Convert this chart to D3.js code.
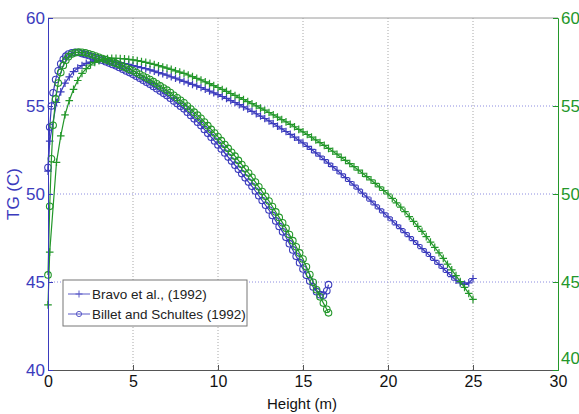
<!DOCTYPE html>
<html>
<head>
<meta charset="utf-8">
<script src="https://cdn.jsdelivr.net/npm/d3@7.9.0/dist/d3.min.js"></script>
<style>
  body { margin: 0; background: #fff; }
  svg { display: block; font-family: "Liberation Sans", Arial, sans-serif; }
</style>
</head>
<body>
<svg id="chart" width="579" height="414"></svg>
<script>
// axis ticks and legend text
const xTicks = [0, 5, 10, 15, 20, 25, 30];
const yTicks = [40, 45, 50, 55, 60];
const legendLabels = ['Bravo et al., (1992)', 'Billet and Schultes (1992)'];

// heights (m) for the Bravo (+) curves
const heightLong = [
  0, 0.1, 0.5, 0.75, 1, 1.25, 1.5, 1.75, 2, 2.25,
  2.5, 2.75, 3, 3.25, 3.5, 3.75, 4, 4.25, 4.5, 4.75,
  5, 5.25, 5.5, 5.75, 6, 6.25, 6.5, 6.75, 7, 7.25,
  7.5, 7.75, 8, 8.25, 8.5, 8.75, 9, 9.25, 9.5, 9.75,
  10, 10.25, 10.5, 10.75, 11, 11.25, 11.5, 11.75, 12, 12.25,
  12.5, 12.75, 13, 13.25, 13.5, 13.75, 14, 14.25, 14.5, 14.75,
  15, 15.25, 15.5, 15.75, 16, 16.25, 16.5, 16.75, 17, 17.25,
  17.5, 17.75, 18, 18.25, 18.5, 18.75, 19, 19.25, 19.5, 19.75,
  20, 20.25, 20.5, 20.75, 21, 21.25, 21.5, 21.75, 22, 22.25,
  22.5, 22.75, 23, 23.25, 23.5, 23.75, 24, 24.25, 24.5, 24.75,
  25
];

// heights (m) for the Billet (o) curves
const heightShort = [
  0, 0.1, 0.2, 0.3, 0.45, 0.6, 0.75, 0.9, 1.05, 1.2,
  1.4, 1.6, 1.8, 2.0, 2.2, 2.4, 2.6, 2.8, 3.0, 3.2,
  3.4, 3.6, 3.8, 4.0, 4.2, 4.4, 4.6, 4.8, 5.0, 5.2,
  5.4, 5.6, 5.8, 6.0, 6.2, 6.4, 6.6, 6.8, 7.0, 7.2,
  7.4, 7.6, 7.8, 8.0, 8.2, 8.4, 8.6, 8.8, 9.0, 9.2,
  9.4, 9.6, 9.8, 10.0, 10.2, 10.4, 10.6, 10.8, 11.0, 11.2,
  11.4, 11.6, 11.8, 12.0, 12.2, 12.4, 12.6, 12.8, 13.0, 13.2,
  13.4, 13.6, 13.8, 14.0, 14.2, 14.4, 14.6, 14.8, 15.0, 15.2,
  15.4, 15.6, 15.8, 16.0, 16.2, 16.4, 16.5
];

// TG (C), left axis (blue)
const bravoLeft = [
  51.3, 53.0, 55.2, 55.8, 56.3, 56.65, 56.95, 57.15, 57.3, 57.42,
  57.5, 57.56, 57.6, 57.61, 57.59, 57.55, 57.5, 57.46, 57.41, 57.36,
  57.3, 57.24, 57.18, 57.12, 57.05, 56.98, 56.9, 56.83, 56.75, 56.66,
  56.58, 56.49, 56.4, 56.31, 56.23, 56.14, 56.05, 55.95, 55.85, 55.75,
  55.65, 55.54, 55.43, 55.31, 55.2, 55.08, 54.95, 54.83, 54.7, 54.56,
  54.43, 54.29, 54.15, 54.0, 53.85, 53.7, 53.55, 53.39, 53.23, 53.06,
  52.9, 52.71, 52.53, 52.34, 52.15, 51.95, 51.75, 51.55, 51.35, 51.14,
  50.93, 50.71, 50.5, 50.28, 50.05, 49.83, 49.6, 49.38, 49.15, 48.93,
  48.7, 48.48, 48.25, 48.03, 47.8, 47.58, 47.35, 47.13, 46.9, 46.68,
  46.45, 46.23, 46.0, 45.77, 45.54, 45.31, 45.1, 44.95, 44.87, 44.95,
  45.2
];

const billetLeft = [
  51.5, 53.8, 55.0, 55.75, 56.5, 57.0, 57.4, 57.65, 57.83, 57.95,
  58.02, 58.05, 58.04, 57.98, 57.93, 57.87, 57.81, 57.75, 57.68, 57.6,
  57.52, 57.44, 57.36, 57.28, 57.19, 57.09, 56.99, 56.9, 56.8, 56.69,
  56.58, 56.47, 56.35, 56.24, 56.11, 55.98, 55.85, 55.72, 55.59, 55.44,
  55.29, 55.14, 54.99, 54.84, 54.65, 54.46, 54.27, 54.08, 53.89, 53.67,
  53.45, 53.23, 53.01, 52.79, 52.56, 52.33, 52.1, 51.87, 51.64, 51.4,
  51.16, 50.92, 50.68, 50.44, 50.17, 49.9, 49.63, 49.36, 49.09, 48.78,
  48.47, 48.16, 47.85, 47.54, 47.18, 46.82, 46.46, 46.1, 45.74, 45.38,
  45.05, 44.72, 44.45, 44.28, 44.25, 44.5, 44.85
];

// TG, right axis (green)
const bravoRight = [
  43.7, 46.7, 51.8, 53.3, 54.5, 55.3, 55.95, 56.45, 56.85, 57.12,
  57.33, 57.48, 57.58, 57.65, 57.69, 57.71, 57.71, 57.7, 57.68, 57.65,
  57.62, 57.58, 57.53, 57.48, 57.42, 57.36, 57.29, 57.22, 57.15, 57.08,
  57.0, 56.93, 56.85, 56.76, 56.67, 56.57, 56.48, 56.37, 56.27, 56.16,
  56.05, 55.94, 55.83, 55.71, 55.6, 55.48, 55.37, 55.25, 55.13, 55.01,
  54.88, 54.76, 54.63, 54.5, 54.37, 54.23, 54.1, 53.96, 53.82, 53.67,
  53.53, 53.38, 53.23, 53.07, 52.92, 52.76, 52.59, 52.43, 52.26, 52.08,
  51.91, 51.73, 51.55, 51.36, 51.18, 50.99, 50.8, 50.6, 50.4, 50.2,
  50.0, 49.75, 49.5, 49.25, 49.0, 48.72, 48.44, 48.16, 47.88, 47.58,
  47.27, 46.97, 46.66, 46.34, 46.01, 45.69, 45.36, 45.02, 44.69, 44.35,
  44.01
];

const billetRight = [
  45.4, 49.3, 52.0, 53.9, 55.4, 56.3, 56.9, 57.3, 57.6, 57.8,
  57.95, 58.03, 58.06, 58.05, 58.02, 57.97, 57.91, 57.84, 57.77, 57.7,
  57.63, 57.56, 57.49, 57.42, 57.34, 57.25, 57.17, 57.08, 57.0, 56.9,
  56.8, 56.7, 56.6, 56.5, 56.38, 56.26, 56.14, 56.02, 55.9, 55.76,
  55.61, 55.47, 55.32, 55.18, 55.0, 54.83, 54.65, 54.48, 54.3, 54.09,
  53.88, 53.67, 53.46, 53.25, 53.03, 52.81, 52.59, 52.37, 52.15, 51.91,
  51.67, 51.43, 51.19, 50.95, 50.68, 50.41, 50.14, 49.87, 49.6, 49.29,
  48.98, 48.67, 48.36, 48.05, 47.7, 47.35, 47.0, 46.65, 46.3, 45.86,
  45.42, 44.98, 44.56, 44.16, 43.8, 43.45, 43.25
];

const blue = '#3b3bbd';
const green = '#23972a';

const svg = d3.select('#chart');
const plotLeft = 48, plotRight = 558, plotTop = 18, plotBottom = 370;

const x = d3.scaleLinear().domain([0, 30]).range([plotLeft, plotRight]);
const yLeft = d3.scaleLinear().domain([40, 60]).range([plotBottom, plotTop]);
const yRight = d3.scaleLinear().domain([40, 60]).range([plotBottom, plotTop]);

function zip(xs, ys) {
  const n = Math.min(xs.length, ys.length);
  return d3.range(n).map((i) => ({ h: xs[i], t: ys[i] }));
}

// grid
svg.append('g')
  .selectAll('line')
  .data(xTicks.slice(1, -1))
  .join('line')
  .attr('x1', (d) => x(d)).attr('x2', (d) => x(d))
  .attr('y1', plotTop).attr('y2', plotBottom)
  .attr('stroke', '#a8a8a8')
  .attr('stroke-dasharray', '1,2');

svg.append('g')
  .selectAll('line')
  .data(yTicks.slice(1, -1))
  .join('line')
  .attr('x1', plotLeft).attr('x2', plotRight)
  .attr('y1', (d) => yLeft(d)).attr('y2', (d) => yLeft(d))
  .attr('stroke', '#8c8ce0')
  .attr('stroke-dasharray', '1,2');

const plusPath = 'M-3.8,0H3.8M0,-3.8V3.8';

function drawSeries(data, yScale, color, marker) {
  const line = d3.line().x((d) => x(d.h)).y((d) => yScale(d.t));
  svg.append('path')
    .datum(data)
    .attr('d', line)
    .attr('fill', 'none')
    .attr('stroke', color)
    .attr('stroke-width', 1.2);

  const g = svg.append('g');
  if (marker === 'plus') {
    g.selectAll('path')
      .data(data)
      .join('path')
      .attr('d', plusPath)
      .attr('transform', (d) => `translate(${x(d.h)},${yScale(d.t)})`)
      .attr('stroke', color)
      .attr('stroke-width', 1.2);
  } else {
    g.selectAll('circle')
      .data(data)
      .join('circle')
      .attr('cx', (d) => x(d.h))
      .attr('cy', (d) => yScale(d.t))
      .attr('r', 3.3)
      .attr('fill', 'none')
      .attr('stroke', color)
      .attr('stroke-width', 1.1);
  }
}

drawSeries(zip(heightLong, bravoLeft), yLeft, blue, 'plus');
drawSeries(zip(heightShort, billetLeft), yLeft, blue, 'circle');
drawSeries(zip(heightLong, bravoRight), yRight, green, 'plus');
drawSeries(zip(heightShort, billetRight), yRight, green, 'circle');

// frame
svg.append('line')
  .attr('x1', plotLeft).attr('x2', plotRight).attr('y1', plotTop).attr('y2', plotTop)
  .attr('stroke', '#9a9a9a');

// bottom axis
const xAxis = svg.append('g')
  .attr('transform', `translate(0,${plotBottom})`)
  .call(d3.axisBottom(x).tickValues(xTicks).tickSize(-5).tickPadding(6).tickFormat(d3.format('d')));
xAxis.select('.domain').attr('stroke', '#555');
xAxis.selectAll('.tick line').attr('stroke', '#555');
xAxis.selectAll('text').attr('font-size', 16).attr('fill', '#111').attr('font-family', 'Liberation Sans, Arial, sans-serif');

// left axis
const yAxisL = svg.append('g')
  .attr('transform', `translate(${plotLeft},0)`)
  .call(d3.axisLeft(yLeft).tickValues(yTicks).tickSize(-5).tickPadding(3).tickFormat(d3.format('d')));
yAxisL.select('.domain').attr('stroke', blue);
yAxisL.selectAll('.tick line').attr('stroke', blue);
yAxisL.selectAll('text').attr('font-size', 17).attr('fill', blue).attr('font-family', 'Liberation Sans, Arial, sans-serif');

// right axis
const yAxisR = svg.append('g')
  .attr('transform', `translate(${plotRight},0)`)
  .call(d3.axisRight(yRight).tickValues(yTicks).tickSize(-5).tickPadding(3).tickFormat(d3.format('d')));
yAxisR.select('.domain').attr('stroke', green);
yAxisR.selectAll('.tick line').attr('stroke', green);
yAxisR.selectAll('text').attr('font-size', 17).attr('fill', green).attr('font-family', 'Liberation Sans, Arial, sans-serif');
yAxisR.selectAll('.tick').filter((d) => d === 40).select('text').attr('dy', '-0.4em');

// axis titles
svg.append('text')
  .attr('x', (plotLeft + plotRight) / 2 - 1)
  .attr('y', 409)
  .attr('text-anchor', 'middle')
  .attr('font-size', 15)
  .attr('fill', '#111')
  .text('Height (m)');

svg.append('text')
  .attr('transform', `translate(19,${(plotTop + plotBottom) / 2}) rotate(-90)`)
  .attr('text-anchor', 'middle')
  .attr('font-size', 17)
  .attr('fill', blue)
  .text('TG (C)');

// legend
const legend = svg.append('g').attr('transform', 'translate(63,280)');
legend.append('rect')
  .attr('width', 184).attr('height', 46)
  .attr('fill', '#fff')
  .attr('stroke', '#777');

const legendItems = legend.selectAll('g.item')
  .data(legendLabels)
  .join('g')
  .attr('class', 'item')
  .attr('transform', (d, i) => `translate(0,${14 + i * 20})`);

legendItems.append('line')
  .attr('x1', 5).attr('x2', 27)
  .attr('stroke', '#5a5ac8');

legendItems.each(function (d, i) {
  const g = d3.select(this);
  if (i === 0) {
    g.append('path').attr('d', 'M-3.5,0H3.5M0,-3.5V3.5').attr('transform', 'translate(16,0)')
      .attr('stroke', '#5a5ac8');
  } else {
    g.append('circle').attr('cx', 16).attr('r', 2.6)
      .attr('fill', 'none').attr('stroke', '#5a5ac8');
  }
});

legendItems.append('text')
  .attr('x', 29)
  .attr('dy', '0.35em')
  .attr('font-size', 13.5)
  .attr('fill', '#222')
  .text((d) => d);
</script>
</body>
</html>
